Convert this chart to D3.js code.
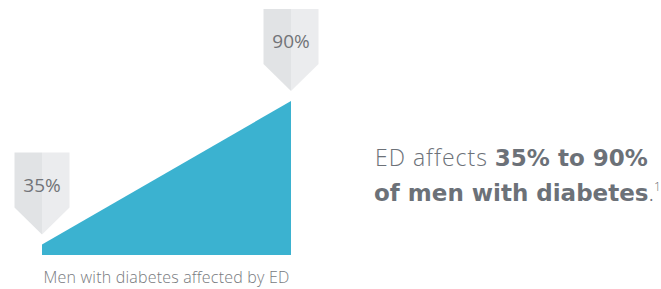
<!DOCTYPE html>
<html>
<head>
<meta charset="utf-8">
<script src="https://cdn.jsdelivr.net/npm/d3@7"></script>
<style>
  body { margin: 0; background: #fff; }
  svg { display: block; font-family: "Open Sans", sans-serif; }
</style>
</head>
<body>
<div id="chart-area"></div>
<script>
// data
var points = ["low", "high"];
var rates = [35, 90];
var rateLabels = ["35%", "90%"];
var axisLabel = "Men with diabetes affected by ED";

var width = 661, height = 289;

var svg = d3.select("#chart-area")
    .append("svg")
    .attr("width", width)
    .attr("height", height);

// X scale
var x = d3.scalePoint()
    .domain(points)
    .range([42, 291]);

// Y scale (baseline does not start at zero)
var y = d3.scaleLinear()
    .domain([31, 90])
    .range([255, 101]);

var data = points.map(function (p, i) {
    return { key: p, value: rates[i], label: rateLabels[i] };
});

// AREA
var area = d3.area()
    .x(function (d) { return x(d.key); })
    .y0(y(31))
    .y1(function (d) { return y(d.value); });

svg.append("path")
    .datum(data)
    .attr("fill", "#3bb2d0")
    .attr("d", area);

// MARKERS
var mw = 55, rectH = 55, tipH = 27, gap = 10;

var markers = svg.selectAll(".marker")
    .data(data)
    .enter()
    .append("g")
    .attr("class", "marker")
    .attr("transform", function (d) {
        return "translate(" + x(d.key) + "," + (y(d.value) - gap) + ")";
    });

// left half
markers.append("path")
    .attr("fill", "#e1e3e5")
    .attr("d", "M0,0 L" + (-mw / 2) + "," + (-tipH) + " L" + (-mw / 2) + "," + (-tipH - rectH) + " L0," + (-tipH - rectH) + "Z");

// right half
markers.append("path")
    .attr("fill", "#ebecee")
    .attr("d", "M0,0 L" + (mw / 2) + "," + (-tipH) + " L" + (mw / 2) + "," + (-tipH - rectH) + " L0," + (-tipH - rectH) + "Z");

markers.append("text")
    .attr("x", 0)
    .attr("y", -tipH - 16)
    .attr("text-anchor", "middle")
    .attr("font-size", "19px")
    .attr("fill", "#727478")
    .text(function (d) { return d.label; });

// X LABEL
svg.append("text")
    .attr("x", (x.range()[0] + x.range()[1]) / 2)
    .attr("y", 283)
    .attr("text-anchor", "middle")
    .attr("font-size", "16px")
    .attr("font-weight", 300)
    .attr("letter-spacing", "0.2px")
    .attr("fill", "#777a7e")
    .text(axisLabel);

// SIDE TEXT
var bold = "'DejaVu Sans', sans-serif";
var note = svg.append("text")
    .attr("x", 375)
    .attr("font-size", "23px")
    .attr("fill", "#6c7178");

var l1 = note.append("tspan").attr("x", 375).attr("y", 166);
l1.append("tspan").attr("font-weight", 300).attr("letter-spacing", "1px").text("ED affects ");
l1.append("tspan").attr("font-weight", 700).attr("font-family", bold)
    .text(rateLabels[0] + " to " + rateLabels[1]);

var l2 = note.append("tspan").attr("x", 374).attr("y", 201);
l2.append("tspan").attr("font-weight", 700).attr("font-family", bold).text("of men with diabetes");
l2.append("tspan").attr("font-weight", 300).text(".");
l2.append("tspan").attr("font-weight", 300).attr("font-size", "12px").attr("dy", -10).text("1");
</script>
</body>
</html>
